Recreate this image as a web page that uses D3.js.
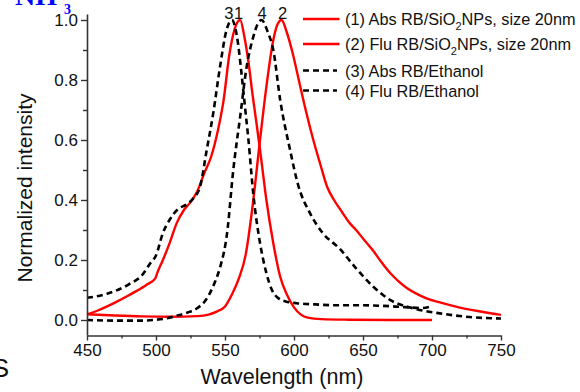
<!DOCTYPE html>
<html>
<head>
<meta charset="utf-8">
<script src="https://cdn.jsdelivr.net/npm/d3@7"></script>
<style>
  html, body { margin: 0; padding: 0; background: #fff; }
  svg { display: block; font-family: Arial, "Liberation Sans", sans-serif; }
</style>
</head>
<body>
<svg id="chart" width="580" height="392"></svg>
<script>
// (1) Absorption of RB in SiO2 nanoparticles
const wlAbsSiO2 = [450, 457, 465, 472, 479, 486, 493, 499.5, 501, 505, 510, 515, 520, 525, 530, 535, 540, 545, 549, 553, 557, 561, 564, 567, 570, 573, 576, 580, 585, 590, 595, 600, 605, 610, 620, 640, 670, 700];
const absSiO2   = [0.019, 0.030, 0.046, 0.062, 0.079, 0.097, 0.117, 0.139, 0.158, 0.200, 0.258, 0.323, 0.365, 0.393, 0.430, 0.490, 0.545, 0.635, 0.733, 0.880, 0.970, 1.000, 0.945, 0.860, 0.750, 0.650, 0.545, 0.400, 0.256, 0.144, 0.083, 0.042, 0.018, 0.008, 0.003, 0.001, 0.000, 0.000];

// (2) Fluorescence of RB in SiO2 nanoparticles
const wlFluSiO2 = [450, 470, 490, 510, 530, 538, 544, 550, 555, 560, 565, 570, 575, 580, 585, 588, 591, 594.7, 599, 604, 609, 614, 619, 624, 629, 633, 640, 645, 651, 657, 663, 670, 676, 682, 689, 696, 707, 718, 733, 750];
const fluSiO2   = [0.019, 0.015, 0.012, 0.011, 0.013, 0.018, 0.028, 0.045, 0.085, 0.138, 0.218, 0.380, 0.585, 0.778, 0.933, 0.985, 1.000, 0.960, 0.890, 0.789, 0.690, 0.600, 0.520, 0.444, 0.400, 0.372, 0.325, 0.300, 0.266, 0.233, 0.195, 0.155, 0.128, 0.106, 0.087, 0.072, 0.057, 0.044, 0.030, 0.017];

// (3) Absorption of RB in ethanol
const wlAbsEth = [450, 465, 480, 490, 496, 500, 505, 510, 516, 522, 527, 532, 536.5, 541.5, 546.4, 551, 555, 559.5, 562, 564.5, 567, 570.5, 575.4, 580, 584, 588, 594, 602, 615, 633, 650, 665, 680, 693, 700];
const absEth   = [0.074, 0.088, 0.118, 0.150, 0.190, 0.215, 0.290, 0.335, 0.370, 0.385, 0.405, 0.445, 0.560, 0.690, 0.844, 0.965, 1.000, 0.920, 0.820, 0.710, 0.600, 0.420, 0.256, 0.156, 0.100, 0.075, 0.062, 0.056, 0.052, 0.049, 0.049, 0.047, 0.043, 0.040, 0.046];

// (4) Fluorescence of RB in ethanol
const wlFluEth = [450, 470, 490, 498, 507, 515, 523, 530, 535, 539, 543, 546.6, 551.5, 556, 561, 565.7, 570.5, 573.5, 576.5, 581, 585, 590, 597, 603, 611.6, 621, 633, 645, 657.5, 669.6, 686.5, 705.8, 730, 750];
const fluEth   = [0.000, -0.002, -0.002, 0.000, 0.005, 0.014, 0.025, 0.040, 0.060, 0.089, 0.130, 0.178, 0.289, 0.500, 0.678, 0.844, 0.944, 0.985, 1.000, 0.960, 0.900, 0.733, 0.570, 0.450, 0.356, 0.289, 0.238, 0.172, 0.111, 0.067, 0.039, 0.022, 0.009, 0.005];

// Series names, styles and the labels written over each peak
const seriesNames  = ["(1) Abs RB/SiO", "(2) Flu RB/SiO", "(3) Abs RB/Ethanol", "(4) Flu RB/Ethanol"];
const seriesTails  = ["NPs, size 20nm", "NPs, size 20nm", "", ""];
const peakLabels   = ["1", "2", "3", "4"];

// Axis ticks
const xTicks = [450, 500, 550, 600, 650, 700, 750];
const xMinorTicks = [475, 525, 575, 625, 675, 725];
const yTicks = [0.0, 0.2, 0.4, 0.6, 0.8, 1.0];
const yMinorTicks = [0.1, 0.3, 0.5, 0.7, 0.9];

const series = [
  { wl: wlAbsSiO2, v: absSiO2, color: "#ff0000", dash: null },
  { wl: wlFluSiO2, v: fluSiO2, color: "#ff0000", dash: null },
  { wl: wlAbsEth,  v: absEth,  color: "#000000", dash: "6,4" },
  { wl: wlFluEth,  v: fluEth,  color: "#000000", dash: "6,4" }
].map((s, i) => ({ ...s, name: seriesNames[i], tail: seriesTails[i], label: peakLabels[i],
  points: s.wl.map((w, j) => [w, s.v[j]]) }));

const svg = d3.select("#chart");
const axisColor = "#333";

const x = d3.scaleLinear().domain([450, 750]).range([87, 501]);
const y = d3.scaleLinear().domain([-0.05, 1.02]).range([335, 14]);

// Curves
const line = d3.line().x(d => x(d[0])).y(d => y(d[1])).curve(d3.curveMonotoneX);
svg.append("g").selectAll("path").data(series).join("path")
  .attr("d", d => line(d.points))
  .attr("fill", "none")
  .attr("stroke", d => d.color)
  .attr("stroke-width", d => d.dash ? 2.6 : 2.4)
  .attr("stroke-dasharray", d => d.dash)
  .attr("stroke-linejoin", "round");

// Bottom axis
svg.append("g").attr("transform", "translate(0,335.5)")
  .call(d3.axisBottom(x).tickValues(xTicks).tickSize(5).tickSizeOuter(0).tickPadding(3).tickFormat(d3.format("d")));
svg.append("g").attr("transform", "translate(0,335.5)")
  .call(d3.axisBottom(x).tickValues(xMinorTicks).tickSize(3).tickSizeOuter(0).tickFormat(""))
  .select(".domain").remove();

// Left axis
svg.append("g").attr("transform", "translate(87,0)")
  .call(d3.axisLeft(y).tickValues(yTicks).tickSize(6).tickSizeOuter(0).tickPadding(3).tickFormat(d3.format(".1f")));
svg.append("g").attr("transform", "translate(87,0)")
  .call(d3.axisLeft(y).tickValues(yMinorTicks).tickSize(4).tickSizeOuter(0).tickFormat(""))
  .select(".domain").remove();

svg.selectAll(".domain").attr("stroke", axisColor).attr("stroke-width", 1.6);
svg.selectAll(".tick line").attr("stroke", axisColor).attr("stroke-width", 1.4);
svg.selectAll(".tick text").attr("fill", "#111").style("font-size", "17px")
  .style("font-family", "Arial, 'Liberation Sans', sans-serif");

// Axis titles
svg.append("text").attr("x", 282).attr("y", 384).attr("text-anchor", "middle")
  .style("font-size", "21.5px").attr("fill", "#111").text("Wavelength (nm)");
svg.append("text").attr("transform", "translate(32,188) rotate(-90)").attr("text-anchor", "middle")
  .style("font-size", "21px").attr("fill", "#111").text("Normalized intensity");

// Peak labels above each maximum
const peakOffsets = { "1": -1.5, "2": 1, "3": -3, "4": 0.5 };
svg.append("g").selectAll("text").data(series).join("text")
  .attr("x", d => {
    const m = d3.maxIndex(d.v);
    return x(d.wl[m]) + peakOffsets[d.label];
  })
  .attr("y", 18.5)
  .attr("text-anchor", "middle")
  .style("font-size", "16.5px")
  .attr("fill", "#111")
  .text(d => d.label);

// Legend
const rowY = [19, 44, 70.5, 90.5];
const legend = svg.append("g");
series.forEach((s, i) => {
  const g = legend.append("g").attr("transform", `translate(0,${rowY[i]})`);
  g.append("line").attr("x1", 303).attr("x2", s.dash ? 337 : 339.5).attr("y1", 0).attr("y2", 0)
    .attr("stroke", s.color).attr("stroke-width", s.dash ? 2.6 : 2.4)
    .attr("stroke-dasharray", s.dash);
  const t = g.append("text").attr("x", 345).attr("y", 6).style("font-size", "16.3px").attr("fill", "#111");
  t.append("tspan").text(s.name);
  if (s.tail) {
    t.append("tspan").attr("dy", 5).style("font-size", "11px").text("2");
    t.append("tspan").attr("dy", -5).text(s.tail);
  }
});

// Fragments of neighbouring text at the edges
svg.append("text").attr("x", 15).attr("y", 5)
  .style("font-family", "'Liberation Serif', 'Times New Roman', serif")
  .style("font-weight", "bold").style("font-size", "28px").attr("fill", "#0000ff").text("NH");
svg.append("text").attr("x", 64).attr("y", 14)
  .style("font-family", "'Liberation Serif', 'Times New Roman', serif")
  .style("font-weight", "bold").style("font-size", "14px").attr("fill", "#0000ff").text("3");
svg.append("text").attr("x", 9).attr("y", 377).attr("text-anchor", "end")
  .style("font-size", "26px").attr("fill", "#111").text("S");
</script>
</body>
</html>
